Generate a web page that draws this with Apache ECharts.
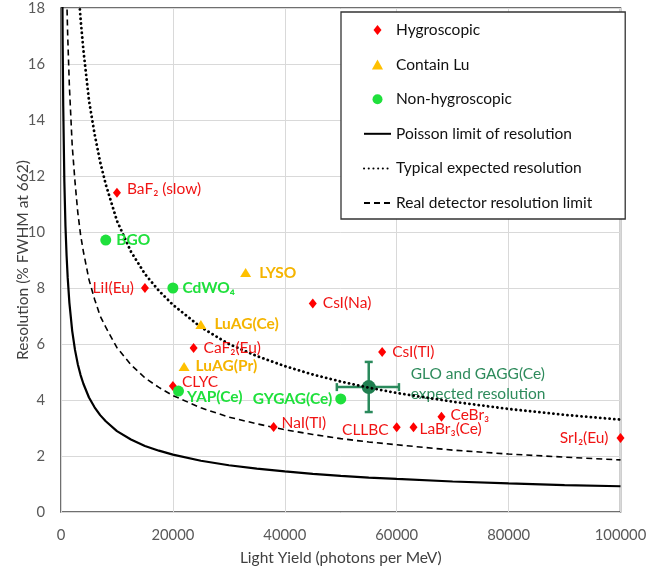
<!DOCTYPE html>
<html><head><meta charset="utf-8">
<script src="https://cdn.jsdelivr.net/npm/echarts@6/dist/echarts.min.js"></script>
<style>html,body{margin:0;padding:0;background:#fff}#c{width:646px;height:575px}</style>
</head><body><div id="c"></div>
<script>
// ---- data ----
const hygroNames = ['BaF₂ (slow)','LiI(Eu)','CsI(Na)','CaF₂(Eu)','CsI(Tl)','CLYC','NaI(Tl)','CLLBC','LaBr₃(Ce)','CeBr₃','SrI₂(Eu)'];
const hygroLY    = [10000, 15000, 45000, 23700, 57400, 20000, 38000, 60000, 63000, 68000, 100000];
const hygroRes   = [11.4, 8.0, 7.45, 5.86, 5.71, 4.5, 3.04, 3.03, 3.03, 3.4, 2.64];

const luNames = ['LYSO','LuAG(Ce)','LuAG(Pr)'];
const luLY    = [33000, 25000, 22000];
const luRes   = [8.55, 6.7, 5.2];

const nonNames = ['BGO','CdWO₄','YAP(Ce)','GYGAG(Ce)'];
const nonLY    = [8000, 20000, 21000, 50000];
const nonRes   = [9.71, 8.0, 4.32, 4.04];

const gloName = 'GLO and GAGG(Ce)\nexpected resolution';
const gloLY = [55000];
const gloRes = [4.46];
const gloLYRange = [49300, 60400];
const gloResRange = [3.57, 5.36];

const curveLY   = [200, 300, 400, 600, 800, 1000, 1200, 1500, 2000, 2500, 3000, 3500, 4000, 5000, 6000, 7000, 8000, 10000, 12500, 15000, 17500, 20000, 25000, 30000, 35000, 40000, 45000, 50000, 55000, 60000, 70000, 80000, 90000, 100000];
const poisson   = [20.5, 16.7, 14.5, 11.8, 10.2, 9.15, 8.36, 7.47, 6.47, 5.79, 5.28, 4.89, 4.58, 4.09, 3.74, 3.46, 3.24, 2.89, 2.59, 2.36, 2.19, 2.05, 1.83, 1.67, 1.55, 1.45, 1.36, 1.29, 1.23, 1.18, 1.09, 1.02, 0.96, 0.92];
const typical   = [null, null, null, null, null, null, null, null, null, 20.8, 19.0, 17.6, 16.5, 14.7, 13.5, 12.5, 11.7, 10.4, 9.3, 8.5, 7.9, 7.4, 6.6, 6.0, 5.57, 5.21, 4.91, 4.66, 4.44, 4.25, 3.94, 3.68, 3.47, 3.30];
const realLimit = [null, null, null, null, 20.8, 18.6, 17.0, 15.2, 13.1, 11.8, 10.7, 9.9, 9.3, 8.3, 7.6, 7.0, 6.6, 5.87, 5.26, 4.79, 4.45, 4.16, 3.72, 3.39, 3.15, 2.94, 2.77, 2.62, 2.50, 2.40, 2.21, 2.07, 1.96, 1.86];

const xTicks = [0, 20000, 40000, 60000, 80000, 100000];
const yTicks = [0, 2, 4, 6, 8, 10, 12, 14, 16, 18];

// ---- styling ----
const FONT = 'Lato, "Open Sans", sans-serif';
const FS = 15.5;
const TICKFS = 14.8;
const RED = '#ff0000', ORANGE = '#ffc000', GREEN = '#1fe03c', DKGREEN = '#1f7f50';
const labelPos = {
  'BaF₂ (slow)': {position:'right', distance:6, offset:[0,-4]},
  'LiI(Eu)': {position:'left', distance:7},
  'CsI(Na)': {position:'right', distance:6},
  'CaF₂(Eu)': {position:'right', distance:6},
  'CsI(Tl)': {position:'right', distance:6},
  'CLYC': {position:'right', distance:5, offset:[0,-4]},
  'NaI(Tl)': {position:'right', distance:4, offset:[0,-4]},
  'CLLBC': {position:'left', distance:4, offset:[0,3]},
  'LaBr₃(Ce)': {position:'right', distance:2, offset:[0,2]},
  'CeBr₃': {position:'right', distance:5, offset:[0,-2]},
  'SrI₂(Eu)': {position:'left', distance:8},
  'LYSO': {position:'right', distance:8},
  'LuAG(Ce)': {position:'right', distance:8},
  'LuAG(Pr)': {position:'right', distance:6},
  'BGO': {position:'right', distance:5},
  'CdWO₄': {position:'right', distance:4},
  'YAP(Ce)': {position:'right', distance:3, offset:[0,6]},
  'GYGAG(Ce)': {position:'left', distance:3}
};
function pts(names, xs, ys){
  return names.map((n,i)=>({name:n, value:[xs[i], ys[i]], label: labelPos[n] || {}}));
}
function curve(ys){ return curveLY.map((x,i)=>[x, ys[i]]); }

const chart = echarts.init(document.getElementById('c'), null, {renderer:'canvas'});
const NOFILL = 'rgba(0,0,0,0)';
const option = {
  animation:false,
  backgroundColor:'#fff',
  textStyle:{fontFamily:FONT},
  grid:{left:61, right:25.5, top:8, bottom:63, show:true, borderColor:'#404040', borderWidth:1.5,
        backgroundColor:'transparent', containLabel:false, outerBoundsMode:'none'},
  legend:{
    orient:'vertical', left:341, top:12,
    padding:[10, 33, 8, 22],
    itemGap:18.6, itemWidth:27, itemHeight:10,
    symbolKeepAspect:true,
    backgroundColor:'#fff', borderColor:'#333', borderWidth:1.3,
    textStyle:{fontSize:FS, color:'#111', fontFamily:FONT},
    data:[
      {name:'Hygroscopic', icon:'path://M4,0L8,5L4,10L0,5Z'},
      {name:'Contain Lu', icon:'path://M5,0L10,9L0,9Z'},
      {name:'Non-hygroscopic', icon:'circle'},
      'Poisson limit of resolution','Typical expected resolution','Real detector resolution limit'
    ]
  },
  xAxis:{
    type:'value', min:0, max:100000, interval:20000,
    name:'Light Yield (photons per MeV)', nameLocation:'middle', nameGap:38, nameMoveOverlap:false,
    nameTextStyle:{fontSize:FS, color:'#404040', fontFamily:FONT},
    axisLine:{show:false}, axisTick:{show:false},
    axisLabel:{fontSize:TICKFS, color:'#595959', margin:16, hideOverlap:false, formatter:v=>xTicks.includes(v)?String(v):''},
    splitLine:{lineStyle:{color:'#d9d9d9', width:1}}
  },
  yAxis:{
    type:'value', min:0, max:18, interval:2,
    name:'Resolution (% FWHM at 662)', nameLocation:'middle', nameGap:30, nameMoveOverlap:false,
    nameTextStyle:{fontSize:FS, color:'#404040', fontFamily:FONT},
    axisLine:{show:false}, axisTick:{show:false},
    axisLabel:{fontSize:TICKFS, color:'#595959', margin:16, formatter:v=>yTicks.includes(v)?String(v):''},
    splitLine:{lineStyle:{color:'#d9d9d9', width:1}}
  },
  series:[
    {name:'Poisson limit of resolution', type:'line', data:curve(poisson), symbol:'none', z:4,
     lineStyle:{color:'#000', width:2.2}, itemStyle:{color:NOFILL}},
    {name:'Typical expected resolution', type:'line', data:curve(typical), symbol:'none', z:4,
     lineStyle:{color:'#000', width:2.8, type:[0.1,4.6], cap:'round'}, itemStyle:{color:NOFILL}},
    {name:'Real detector resolution limit', type:'line', data:curve(realLimit), symbol:'none', z:4,
     lineStyle:{color:'#000', width:1.6, type:[6,4]}, itemStyle:{color:NOFILL}},
    {name:'GLO error', type:'custom', z:2,
     data:[[gloLY[0], gloRes[0], gloLYRange[0], gloLYRange[1], gloResRange[0], gloResRange[1]]],
     renderItem:function(params, api){
       const c = api.coord([api.value(0), api.value(1)]);
       const l = api.coord([api.value(2), api.value(1)]);
       const r = api.coord([api.value(3), api.value(1)]);
       const b = api.coord([api.value(0), api.value(4)]);
       const t = api.coord([api.value(0), api.value(5)]);
       const st = {stroke:'#2a8a5c', lineWidth:2.5};
       const cap = 4;
       return {type:'group', children:[
         {type:'line', shape:{x1:l[0], y1:l[1], x2:r[0], y2:r[1]}, style:st},
         {type:'line', shape:{x1:c[0], y1:b[1], x2:c[0], y2:t[1]}, style:st},
         {type:'line', shape:{x1:l[0], y1:l[1]-cap, x2:l[0], y2:l[1]+cap}, style:st},
         {type:'line', shape:{x1:r[0], y1:r[1]-cap, x2:r[0], y2:r[1]+cap}, style:st},
         {type:'line', shape:{x1:c[0]-cap, y1:b[1], x2:c[0]+cap, y2:b[1]}, style:st},
         {type:'line', shape:{x1:c[0]-cap, y1:t[1], x2:c[0]+cap, y2:t[1]}, style:st}
       ]};
     }},
    {name:'GLO', type:'scatter', z:3, symbol:'circle', symbolSize:14,
     itemStyle:{color:DKGREEN, opacity:1},
     data:[{name:gloName, value:[gloLY[0], gloRes[0]]}],
     label:{show:true, formatter:'{b}', position:'right', distance:35, offset:[0,-3], color:'#2e8b5c', fontSize:FS, lineHeight:20, fontFamily:FONT}},
    {name:'Hygroscopic', type:'scatter', z:5, symbol:'diamond', symbolSize:[8,10],
     itemStyle:{color:RED, opacity:1},
     data:pts(hygroNames, hygroLY, hygroRes),
     label:{show:true, formatter:'{b}', color:'#f01414', fontSize:FS, fontFamily:FONT}},
    {name:'Contain Lu', type:'scatter', z:5, symbol:'triangle', symbolSize:[11,9],
     itemStyle:{color:ORANGE, opacity:1},
     data:pts(luNames, luLY, luRes),
     label:{show:true, formatter:'{b}', color:'#f5b400', fontSize:FS, fontWeight:'bold', fontFamily:FONT}},
    {name:'Non-hygroscopic', type:'scatter', z:5, symbol:'circle', symbolSize:11,
     itemStyle:{color:GREEN, opacity:1},
     data:pts(nonNames, nonLY, nonRes),
     label:{show:true, formatter:'{b}', color:GREEN, fontSize:FS, fontWeight:'bold', fontFamily:FONT}}
  ]
};
chart.setOption(option);
</script>
</body></html>
